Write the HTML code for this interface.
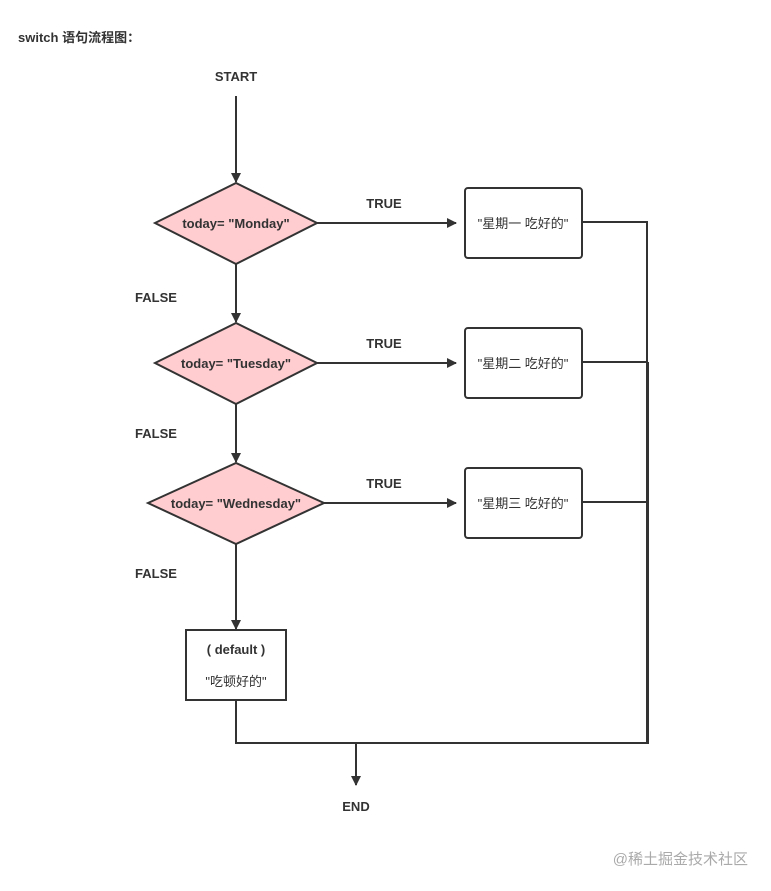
<!DOCTYPE html>
<html><head><meta charset="utf-8"><style>
html,body{margin:0;padding:0;background:#fff;}
svg{display:block;}
text{font-family:"Liberation Sans","Noto Sans CJK SC",sans-serif;fill:#333;}
</style></head><body>
<svg width="771" height="891" viewBox="0 0 771 891" xmlns="http://www.w3.org/2000/svg">
<defs><marker id="a" markerWidth="10" markerHeight="10" refX="9" refY="5" orient="auto" markerUnits="userSpaceOnUse"><path d="M0,0 L10,5 L0,10 z" fill="#333"/></marker></defs>
<text x="18" y="42" font-size="13" font-weight="bold" fill="#222">switch 语句流程图：</text>
<text x="236" y="81" font-size="13" font-weight="bold" text-anchor="middle">START</text>
<g stroke="#333" stroke-width="2" fill="none">
<line x1="236" y1="96" x2="236" y2="182" marker-end="url(#a)"/>
<line x1="236" y1="264" x2="236" y2="322" marker-end="url(#a)"/>
<line x1="236" y1="404" x2="236" y2="462" marker-end="url(#a)"/>
<line x1="236" y1="544" x2="236" y2="629" marker-end="url(#a)"/>
<line x1="317" y1="223" x2="456" y2="223" marker-end="url(#a)"/>
<line x1="317" y1="363" x2="456" y2="363" marker-end="url(#a)"/>
<line x1="324" y1="503" x2="456" y2="503" marker-end="url(#a)"/>
<polyline points="582,222 647,222 647,743"/>
<polyline points="582,362 648,362"/>
<polyline points="582,502 648,502"/>
<polyline points="236,700 236,743 648,743 648,362"/>
<line x1="356" y1="743" x2="356" y2="785" marker-end="url(#a)"/>
</g>
<g stroke="#333" stroke-width="2" fill="#ffccd0">
<polygon points="155,223 236,183 317,223 236,264"/>
<polygon points="155,363 236,323 317,363 236,404"/>
<polygon points="148,503 236,463 324,503 236,544"/>
</g>
<g stroke="#333" stroke-width="2" fill="#fff">
<rect x="465" y="188" width="117" height="70" rx="3"/>
<rect x="465" y="328" width="117" height="70" rx="3"/>
<rect x="465" y="468" width="117" height="70" rx="3"/>
<rect x="186" y="630" width="100" height="70"/>
</g>
<g font-size="13" font-weight="bold" text-anchor="middle">
<text x="236" y="228">today= "Monday"</text>
<text x="236" y="368">today= "Tuesday"</text>
<text x="236" y="508">today= "Wednesday"</text>
<text x="384" y="208">TRUE</text>
<text x="384" y="348">TRUE</text>
<text x="384" y="488">TRUE</text>
<text x="156" y="302">FALSE</text>
<text x="156" y="438">FALSE</text>
<text x="156" y="578">FALSE</text>
<text x="236" y="654">( default )</text>
<text x="356" y="811">END</text>
</g>
<g font-size="13" text-anchor="middle">
<text x="523" y="228">"星期一 吃好的"</text>
<text x="523" y="368">"星期二 吃好的"</text>
<text x="523" y="508">"星期三 吃好的"</text>
<text x="236" y="686">"吃顿好的"</text>
</g>
<text x="748" y="864" font-size="15" text-anchor="end" style="fill:#aaa">@稀土掘金技术社区</text>
</svg>
</body></html>
